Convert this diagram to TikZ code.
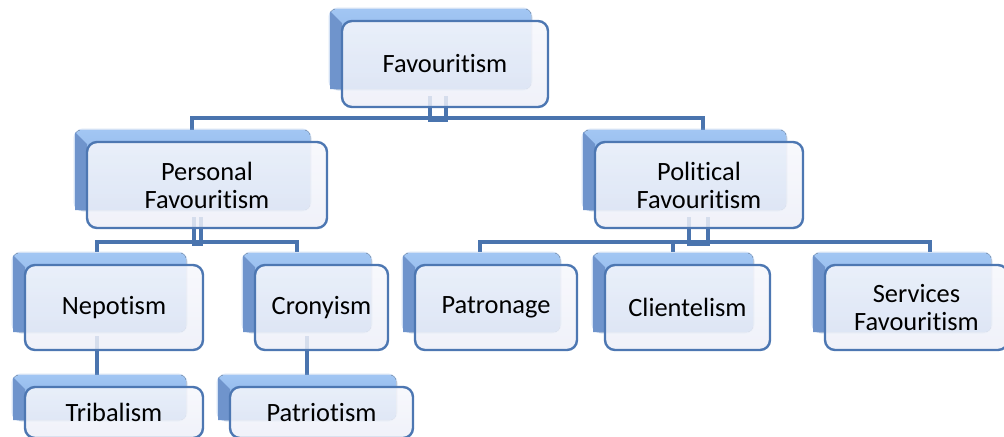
\documentclass[tikz,border=0pt]{standalone}
\usepackage{fontspec}
\setmainfont{Carlito}[Ligatures=NoCommon]
\usetikzlibrary{calc,backgrounds}
\definecolor{conn}{HTML}{4A74AE}
\definecolor{bord}{HTML}{4D77B2}
\definecolor{shtop}{HTML}{A2C6F3}
\definecolor{shbot}{HTML}{80AAE2}
\definecolor{shleft}{HTML}{6F94CC}
\definecolor{frontfill}{HTML}{EDEFF8}
\tikzset{
  frontbox/.style={draw=bord, line width=1.2pt, rounded corners=5pt,
    top color=white!55!frontfill, bottom color=frontfill,
    fill opacity=0.85, text opacity=1, inner sep=0pt, align=center,
    font=\fontsize{13.2}{14}\selectfont},
  backface/.style={top color=shtop, bottom color=shbot, rounded corners=3pt},
  glow/.style={draw=shbot, draw opacity=0.35, line width=1.5pt, rounded corners=4pt},
  sideface/.style={fill=shleft},
  conn/.style={draw=conn, line width=2pt},
  dbl/.style={draw=conn, line width=1.7pt},
}
% name, x1, y1, x2, y2, text
\newcommand\tribox[6]{%
  \draw[glow] (#2-12,#3-12) rectangle (#4-17,#5-18);
  \fill[backface] (#2-12,#3-12) rectangle (#4-17,#5-18);
  \fill[sideface] (#2-12,#3-10) -- (#2,#3+2) -- (#2,#5-18) -- (#2-12,#5-18) -- cycle;
  \node[frontbox, minimum width={(#4-#2)*0.5pt}, minimum height={(#5-#3)*0.5pt}]
    (#1) at ({(#2+#4)/2},{(#3+#5)/2}) {#6};
}
\begin{document}
\begin{tikzpicture}[x=0.5pt, y=-0.5pt]
\useasboundingbox (0,0) rectangle (1004,436);
\tribox{fav}{342}{21}{548}{107}{Favouritism}
\tribox{pers}{87}{142}{327}{228}{Personal\\Favouritism}
\tribox{pol}{595}{142}{803}{228}{Political\\Favouritism}
\tribox{nep}{25}{265}{203}{350}{Nepotism}
\tribox{cro}{255}{265}{388}{350}{Cronyism}
\tribox{pat}{415}{265}{577}{350}{Patronage}
\tribox{cli}{605}{265}{770}{350}{Clientelism}
\tribox{ser}{825}{265}{1008}{350}{Services\\Favouritism}
\tribox{tri}{25}{387}{203}{438}{Tribalism}
\tribox{patr}{230}{387}{413}{438}{Patriotism}
\begin{scope}[on background layer]
  % Favouritism
  \draw[dbl] ($(fav.south)+(-15,-12)$) -- ($(fav.south)+(-15,12)$) -- ($(fav.south)+(1,12)$) -- ($(fav.south)+(1,-12)$);
  \draw[conn] ($(pers.north)+(-15,-10)$) |- ($(pol.north)+(4,-23)$) -- ($(pol.north)+(4,-10)$);
  % Personal
  \draw[dbl] ($(pers.south)+(-13,-12)$) -- ($(pers.south)+(-13,15)$) -- ($(pers.south)+(-6,15)$) -- ($(pers.south)+(-6,-12)$);
  \draw[conn] ($(nep.north)+(-17,-12)$) |- ($(cro.north)+(-24.5,-22)$) -- ($(cro.north)+(-24.5,-12)$);
  % Political
  \draw[dbl] ($(pol.south)+(-10,-12)$) -- ($(pol.south)+(-10,15)$) -- ($(pol.south)+(9,15)$) -- ($(pol.south)+(9,-12)$);
  \draw[conn] ($(pat.north)+(-16,-12)$) |- ($(ser.north)+(13.5,-22)$) -- ($(ser.north)+(13.5,-12)$);
  \draw[conn] ($(cli.north)+(-14.5,-22)$) -- ($(cli.north)+(-14.5,-12)$);
  % Nepotism / Cronyism
  \draw[conn] ($(nep.south)+(-17,-15)$) -- ($(tri.north)+(-17,-10)$);
  \draw[conn] ($(cro.south)+(-14.5,-15)$) -- ($(patr.north)+(-14.5,-10)$);
\end{scope}
\end{tikzpicture}
\end{document}
